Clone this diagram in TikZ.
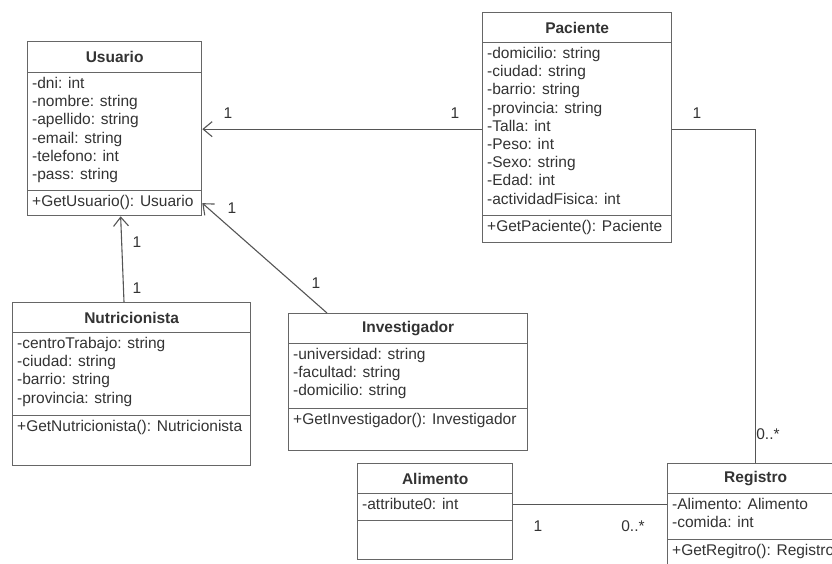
\documentclass[tikz,border=0pt]{standalone}
\usepackage{fontspec}
\setmainfont{Liberation Sans}
\usetikzlibrary{arrows.meta}
\definecolor{boxline}{HTML}{666666}
\definecolor{txt}{HTML}{333333}
\definecolor{conn}{HTML}{555555}
\begin{document}
\begin{tikzpicture}[x=1pt,y=-1pt,
  comp/.style={draw=boxline, line width=1.3pt, anchor=north west, inner sep=0pt, fill=white},
  ctitle/.style={comp, font=\fontsize{15.5}{18}\selectfont\bfseries, text=txt},
  ctext/.style={anchor=north west, inner sep=0pt, align=left, font=\fontsize{15.5}{18.2}\selectfont, text=txt},
  assoc/.style={draw=conn, line width=1.1pt},
  nav/.style={assoc, -{Straight Barb[length=9pt,width=15pt]}},
  mult/.style={font=\fontsize{15.5}{18}\selectfont, text=txt, inner sep=0pt}]
\useasboundingbox (0,0) rectangle (832,563);
\clip (0,0) rectangle (832,563);

% Usuario
\node[ctitle, minimum width=174pt, minimum height=31pt] (ut) at (27,41) {Usuario};
\node[comp, minimum width=174pt, minimum height=118pt] (ua) at (27,72) {};
\node[comp, minimum width=174pt, minimum height=25pt] (um) at (27,190) {};
\node[ctext] (uat) at (32,77) {-dni: int\\-nombre: string\\-apellido: string\\-email: string\\-telefono: int\\-pass: string};
\node[ctext] (umt) at (32,195) {+GetUsuario(): Usuario};

% Paciente
\node[ctitle, minimum width=189pt, minimum height=30pt] (pt) at (482,12) {Paciente};
\node[comp, minimum width=189pt, minimum height=173pt] (pa) at (482,42) {};
\node[comp, minimum width=189pt, minimum height=27pt] (pm) at (482,215) {};
\node[ctext] (pat) at (487,47) {-domicilio: string\\-ciudad: string\\-barrio: string\\-provincia: string\\-Talla: int\\-Peso: int\\-Sexo: string\\-Edad: int\\-actividadFisica: int};
\node[ctext] (pmt) at (487,220) {+GetPaciente(): Paciente};

% Nutricionista
\node[ctitle, minimum width=238pt, minimum height=30pt] (nt) at (12,302) {Nutricionista};
\node[comp, minimum width=238pt, minimum height=83pt] (na) at (12,332) {};
\node[comp, minimum width=238pt, minimum height=50pt] (nm) at (12,415) {};
\node[ctext] (nat) at (17,337) {-centroTrabajo: string\\-ciudad: string\\-barrio: string\\-provincia: string};
\node[ctext] (nmt) at (17,420) {+GetNutricionista(): Nutricionista};

% Investigador
\node[ctitle, minimum width=239pt, minimum height=30pt] (it) at (288,313) {Investigador};
\node[comp, minimum width=239pt, minimum height=65pt] (ia) at (288,343) {};
\node[comp, minimum width=239pt, minimum height=42pt] (im) at (288,408) {};
\node[ctext] (iat) at (293,348) {-universidad: string\\-facultad: string\\-domicilio: string};
\node[ctext] (imt) at (293,413) {+GetInvestigador(): Investigador};

% Alimento
\node[ctitle, minimum width=155pt, minimum height=30pt] (at) at (357,463) {Alimento};
\node[comp, minimum width=155pt, minimum height=27pt] (aa) at (357,493) {};
\node[comp, minimum width=155pt, minimum height=39pt] (am) at (357,520) {};
\node[ctext] (aat) at (362,498) {-attribute0: int};

% Registro
\node[ctitle, minimum width=176pt, minimum height=30pt] (rt) at (667,463) {Registro};
\node[comp, minimum width=176pt, minimum height=46pt] (ra) at (667,493) {};
\node[comp, minimum width=176pt, minimum height=40pt] (rm) at (667,539) {};
\node[ctext] (rat) at (672,498) {-Alimento: Alimento\\-comida: int};
\node[ctext] (rmt) at (672,544) {+GetRegitro(): Registro};

% Connectors
\draw[nav] (pa.west) -- (pa.west -| ua.east);
\draw[nav] ([xshift=39pt]it.north west) -- (um.east);
\draw[nav] ([xshift=112pt]nt.north west) -- ([xshift=6pt]um.south);
\draw[assoc] (pa.east) -- (pa.east -| rt.north) -- (rt.north);
\draw[assoc] ([yshift=3pt]aa.east) -- ([yshift=3pt]aa.east -| ra.west);

% Multiplicities
\node[mult] (m1) at (228,113) {1};
\node[mult] (m2) at (455,113) {1};
\node[mult] (m3) at (697,113) {1};
\node[mult] (m4) at (768,434) {0..*};
\node[mult] (m5) at (232,208) {1};
\node[mult] (m6) at (316,283) {1};
\node[mult] (m7) at (137,242) {1};
\node[mult] (m8) at (137,288) {1};
\node[mult] (m9) at (538,526) {1};
\node[mult] (m10) at (633,526) {0..*};
\end{tikzpicture}
\end{document}
